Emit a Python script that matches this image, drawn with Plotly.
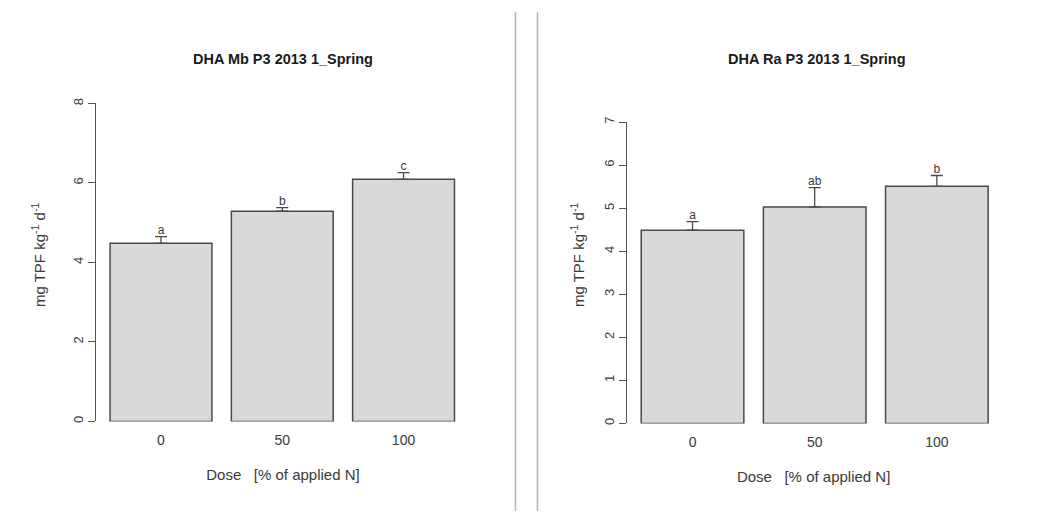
import plotly.graph_objects as go

# Dose groups (% of applied N)
doses = ["0", "50", "100"]
positions = [1, 2, 3]

# Dehydrogenase activity, Mb site
mb_mean = [4.48, 5.29, 6.09]
mb_se = [0.17, 0.09, 0.17]
mb_letters = ["a", "b", "c"]

# Dehydrogenase activity, Ra site
ra_mean = [4.49, 5.03, 5.51]
ra_se = [0.20, 0.45, 0.25]
ra_letters = ["a", "ab", "b"]

W, H = 1043, 513
FONT = "Liberation Sans, Arial, sans-serif"
INK = "#3a3a3a"
BAR_FILL = "#d9d9d9"
BAR_EDGE = "#4a4a4a"


def px_x(p):
    return p / W


def px_y(p):
    return 1 - p / H


fig = go.Figure()

panels = [
    dict(mean=mb_mean, se=mb_se, letters=mb_letters, xa="x", ya="y",
         title="DHA Mb P3 2013 1_Spring"),
    dict(mean=ra_mean, se=ra_se, letters=ra_letters, xa="x2", ya="y2",
         title="DHA Ra P3 2013 1_Spring"),
]

for p in panels:
    fig.add_trace(go.Bar(
        x=positions, y=p["mean"], width=0.84,
        marker=dict(color=BAR_FILL, line=dict(color=BAR_EDGE, width=1.5)),
        error_y=dict(type="data", symmetric=False, array=p["se"],
                     arrayminus=[0] * len(p["se"]), color=BAR_EDGE,
                     thickness=1.3, width=6),
        xaxis=p["xa"], yaxis=p["ya"], showlegend=False, hoverinfo="skip",
    ))
    tops = [m + s for m, s in zip(p["mean"], p["se"])]
    fig.add_trace(go.Scatter(
        x=positions, y=tops, mode="text", text=p["letters"],
        textposition="top center",
        textfont=dict(family=FONT, size=12, color=INK),
        xaxis=p["xa"], yaxis=p["ya"], showlegend=False, hoverinfo="skip",
    ))

xcommon = dict(
    tickvals=positions, ticktext=doses, ticks="", showline=False,
    showgrid=False, zeroline=False, ticklabelstandoff=9,
    tickfont=dict(family=FONT, size=14, color=INK),
    title=dict(text="Dose\u00a0\u00a0\u00a0[% of applied N]",
               font=dict(family=FONT, size=15, color=INK), standoff=22),
)
ycommon = dict(
    showline=True, linecolor="#555555", linewidth=1, ticks="outside",
    ticklen=7, tickcolor="#555555", tickwidth=1, tickangle=-90,
    showgrid=False, zeroline=False,
    tickfont=dict(family=FONT, size=13, color=INK),
)

fig.update_layout(
    width=W, height=H,
    margin=dict(l=0, r=0, t=0, b=0),
    paper_bgcolor="white", plot_bgcolor="white",
    xaxis=dict(domain=[px_x(96), px_x(470)], range=[0.464, 3.548],
               anchor="y", **xcommon),
    yaxis=dict(domain=[px_y(422), px_y(99)], range=[0, 8], dtick=2,
               anchor="x", **ycommon),
    xaxis2=dict(domain=[px_x(627.3), px_x(1000)], range=[0.466, 3.517],
                anchor="y2", **xcommon),
    yaxis2=dict(domain=[px_y(424), px_y(118)], range=[0, 7], dtick=1,
                anchor="x2", **ycommon),
)

# Panel titles and y-axis labels
for cx, ty, lx, ly, title in [(283, 54, 38, 253, panels[0]["title"]),
                              (817, 54, 577, 253, panels[1]["title"])]:
    fig.add_annotation(x=px_x(cx), y=px_y(ty), xref="paper", yref="paper",
                       text="<b>" + title + "</b>", showarrow=False,
                       xanchor="center", yanchor="middle",
                       font=dict(family=FONT, size=14.5, color="#1a1a1a"))
    fig.add_annotation(x=px_x(lx), y=px_y(ly), xref="paper", yref="paper",
                       text="mg TPF kg<sup>-1</sup> d<sup>-1</sup>",
                       textangle=-90, showarrow=False,
                       xanchor="center", yanchor="middle",
                       font=dict(family=FONT, size=15, color=INK))

# Divider lines between the two panels
for xp in (515.5, 537.5):
    fig.add_shape(type="line", xref="paper", yref="paper",
                  x0=px_x(xp), x1=px_x(xp), y0=px_y(6), y1=0,
                  line=dict(color="#b5b5b5", width=1.5))

fig.write_html("out.html")
